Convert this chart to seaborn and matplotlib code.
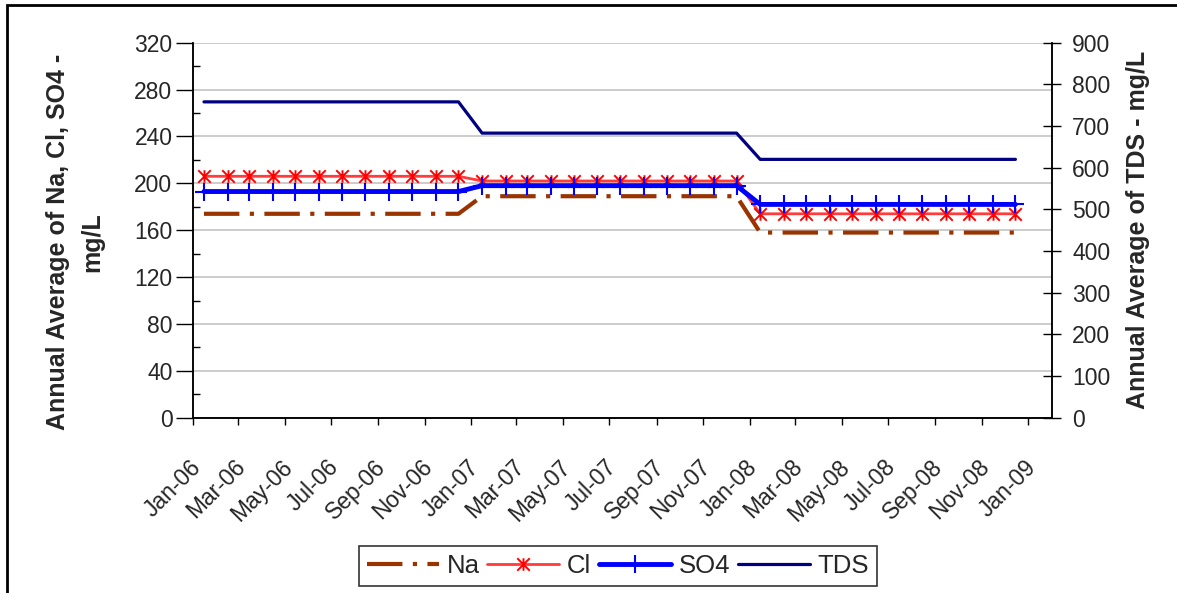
"""Annual averages of Na, Cl, SO4 and TDS, 2006-2008."""
import matplotlib.pyplot as plt
import matplotlib.dates as mdates
import pandas as pd
import seaborn as sns
from matplotlib.patches import Rectangle
from matplotlib.path import Path
from matplotlib.ticker import MultipleLocator
from matplotlib.transforms import ScaledTranslation

MONTHS = [
    "2006-01", "2006-02", "2006-03", "2006-04", "2006-05", "2006-06",
    "2006-07", "2006-08", "2006-09", "2006-10", "2006-11", "2006-12",
    "2007-01", "2007-02", "2007-03", "2007-04", "2007-05", "2007-06",
    "2007-07", "2007-08", "2007-09", "2007-10", "2007-11", "2007-12",
    "2008-01", "2008-02", "2008-03", "2008-04", "2008-05", "2008-06",
    "2008-07", "2008-08", "2008-09", "2008-10", "2008-11", "2008-12",
]
NA = [174, 174, 174, 174, 174, 174, 174, 174, 174, 174, 174, 174,
      189, 189, 189, 189, 189, 189, 189, 189, 189, 189, 189, 189,
      158, 158, 158, 158, 158, 158, 158, 158, 158, 158, 158, 158]
CL = [206, 206, 206, 206, 206, 206, 206, 206, 206, 206, 206, 206,
      202, 202, 202, 202, 202, 202, 202, 202, 202, 202, 202, 202,
      174, 174, 174, 174, 174, 174, 174, 174, 174, 174, 174, 174]
SO4 = [193, 193, 193, 193, 193, 193, 193, 193, 193, 193, 193, 193,
       198, 198, 198, 198, 198, 198, 198, 198, 198, 198, 198, 198,
       182, 182, 182, 182, 182, 182, 182, 182, 182, 182, 182, 182]
TDS = [758, 758, 758, 758, 758, 758, 758, 758, 758, 758, 758, 758,
       683, 683, 683, 683, 683, 683, 683, 683, 683, 683, 683, 683,
       620, 620, 620, 620, 620, 620, 620, 620, 620, 620, 620, 620]

sns.set_style("white")
plt.rcParams["font.family"] = ["Liberation Sans", "DejaVu Sans"]

df = pd.DataFrame({
    "date": pd.to_datetime(MONTHS) + pd.Timedelta(days=14),
    "Na": NA, "Cl": CL, "SO4": SO4, "TDS": TDS,
})

W, H = 1177, 593
fig = plt.figure(figsize=(W / 100, H / 100), dpi=100)
left, right, top, bottom = 193.3, 1052, 42.7, 417.7
ax = fig.add_axes([left / W, 1 - bottom / H, (right - left) / W, (bottom - top) / H])
ax2 = ax.twinx()

# Excel-style star marker: an X with a vertical stroke
STAR = Path([(-1, -1), (1, 1), (-1, 1), (1, -1), (0, -1), (0, 1)],
            [Path.MOVETO, Path.LINETO] * 3)

sns.lineplot(data=df, x="date", y="Na", ax=ax, color="#993300", lw=3,
             label="Na", legend=False)
ax.lines[-1].set_dashes((8.5, 2.5, 1, 2.5))
sns.lineplot(data=df, x="date", y="Cl", ax=ax, color="#FF3B3B", lw=2,
             marker=STAR, markersize=9, markeredgewidth=1.4,
             markeredgecolor="#FF0000", label="Cl", legend=False)
sns.lineplot(data=df, x="date", y="SO4", ax=ax, color="#0000FF", lw=3.5,
             marker="+", markersize=13, markeredgewidth=1.5,
             markeredgecolor="#0000FF", label="SO4", legend=False)
sns.lineplot(data=df, x="date", y="TDS", ax=ax2, color="#000080", lw=2.3,
             label="TDS", legend=False)

ax.set_xlim(pd.Timestamp("2006-01-01"), pd.Timestamp("2009-02-01"))
ax.set_ylim(0, 320)
ax2.set_ylim(0, 900)
ax.yaxis.set_major_locator(MultipleLocator(40))
ax.yaxis.set_minor_locator(MultipleLocator(20))
ax2.yaxis.set_major_locator(MultipleLocator(100))
ax.xaxis.set_major_locator(mdates.MonthLocator(bymonth=[1, 3, 5, 7, 9, 11]))
ax.xaxis.set_major_formatter(mdates.DateFormatter("%b-%y"))

ax.grid(axis="y", which="major", color="#BEBEBE", lw=1.1)
ax.set_axisbelow(True)
for a in (ax, ax2):
    a.set_xlabel("")
    a.set_ylabel("")
    a.spines["top"].set_visible(False)
    for s in ("left", "right", "bottom"):
        a.spines[s].set_color("black")
        a.spines[s].set_linewidth(1.1)

ax.tick_params(axis="y", which="major", direction="out", length=12, width=1,
               color="black", pad=3, labelsize=16.5, left=True)
ax.tick_params(axis="y", which="minor", direction="in", length=5, width=1,
               color="black", left=True)
ax.tick_params(axis="x", direction="out", length=5, width=1, color="black",
               pad=28, labelsize=16.5, bottom=True)
ax2.tick_params(axis="y", direction="inout", length=13, width=1, color="black",
                pad=8, labelsize=16.5, right=True)
shift = ScaledTranslation(4 / 100, 0, fig.dpi_scale_trans)
for lab in ax.get_xticklabels():
    lab.set_rotation(45)
    lab.set_ha("right")
    lab.set_va("center")
    lab.set_rotation_mode("anchor")
    lab.set_transform(lab.get_transform() + shift)

fig.text(75 / W, 1 - 242 / H, "Annual Average of Na, Cl, SO4 -\nmg/L",
         rotation=90, ha="center", va="center", multialignment="center",
         fontsize=18, fontweight="bold", linespacing=1.5)
fig.text(1138 / W, 1 - 230 / H, "Annual Average of TDS - mg/L",
         rotation=90, ha="center", va="center", fontsize=18, fontweight="bold")

h1, l1 = ax.get_legend_handles_labels()
h2, l2 = ax2.get_legend_handles_labels()
leg = fig.legend(h1 + h2, l1 + l2, loc="center", bbox_to_anchor=(618 / W, 1 - 566 / H),
                 ncol=4, frameon=True, fancybox=False, edgecolor="black",
                 fontsize=18.5, handlelength=2.8, handletextpad=0.3,
                 columnspacing=0.3, borderpad=0.3)
leg.get_frame().set_linewidth(1.2)

# chart area border (cropped at right and bottom in the original)
fig.add_artist(Rectangle((7 / W, -0.1), 1.2, 1.1 - 5 / H, transform=fig.transFigure,
                         fill=False, ec="black", lw=2))

fig.savefig("out.png", dpi=100)
